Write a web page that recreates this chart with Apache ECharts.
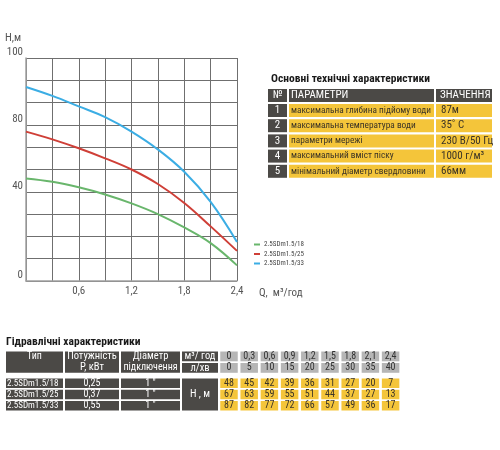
<!DOCTYPE html>
<html>
<head>
<meta charset="utf-8">
<script src="https://cdn.jsdelivr.net/npm/echarts@6/dist/echarts.min.js"></script>
<style>
html,body{margin:0;padding:0;background:#fff;}
#chart{width:500px;height:450px;}
</style>
</head>
<body>
<div id="chart"></div>
<script>
// ---------- chart data ----------
const qValues = [0, 0.3, 0.6, 0.9, 1.2, 1.5, 1.8, 2.1, 2.4];
const seriesNames = ['2.5SDm1.5/18', '2.5SDm1.5/25', '2.5SDm1.5/33'];
const headGreen = [46, 44.5, 42, 38.8, 34.8, 30, 24, 17, 7];
const headRed = [67, 63.5, 59.5, 55, 50, 43.5, 35, 24.5, 13.5];
const headBlue = [87, 83, 78.3, 73.5, 67, 59, 49, 35.5, 17.5];
const yTickValues = [0, 40, 70, 100];
const yTickLabels = ['0', '40', '80', '100'];
const xTickValues = [0.6, 1.2, 1.8, 2.4];
const xTickLabels = ['0,6', '1,2', '1,8', '2,4'];

// ---------- table 1 data ----------
const specTitle = 'Основні технічні характеристики';
const specHeader = ['№', 'ПАРАМЕТРИ', 'ЗНАЧЕННЯ'];
const specNums = ['1', '2', '3', '4', '5'];
const specParams = ['максимальна глибина підйому води', 'максимальна температура води', 'параметри мережі', 'максимальний вміст піску', 'мінімальний діаметр свердловини'];
const specValues = ['87м', '35˚ C', '230 В/50 Гц', '1000 г/м³', '66мм'];

// ---------- table 2 data ----------
const hydTitle = 'Гідравлічні характеристики';
const pumpTypes = ['2.5SDm1.5/18', '2.5SDm1.5/25', '2.5SDm1.5/33'];
const pumpPower = ['0,25', '0,37', '0,55'];
const pumpDiameter = ['1 "', '1 "', '1 "'];
const flowM3 = ['0', '0,3', '0,6', '0,9', '1,2', '1,5', '1,8', '2,1', '2,4'];
const flowLmin = ['0', '5', '10', '15', '20', '25', '30', '35', '40'];
const tableHead18 = [48, 45, 42, 39, 36, 31, 27, 20, 7];
const tableHead25 = [67, 63, 59, 55, 51, 44, 37, 27, 13];
const tableHead33 = [87, 82, 77, 72, 66, 57, 49, 36, 17];

const FONT = '"Liberation Sans Narrow", "Arial Narrow", "Roboto Condensed", "DejaVu Sans Condensed", sans-serif';
const DARK = '#4b4946';
const YELLOW = '#f4c53a';
const GREY = '#b6b6b6';
const colors = ['#69b66c', '#cf3f37', '#3badE4'];

function rect(x, y, w, h, fill) {
  return { type: 'rect', silent: true, shape: { x: x, y: y, width: w, height: h }, style: { fill: fill } };
}
function txt(x, y, text, size, fill, align, weight) {
  return { type: 'text', silent: true, x: x, y: y,
    style: { text: text, fill: fill, fontSize: size, fontFamily: FONT, fontWeight: weight || 'normal',
      align: align || 'left', verticalAlign: 'middle' } };
}

const g = [];
// table 1
g.push(txt(271, 79, specTitle, 11.5, '#1a1a1a', 'left', 'bold'));
const t1cols = [[268, 19], [289, 145], [436, 56]];
const t1HeadTop = 89, rowH = 13;
t1cols.forEach(function (c) { g.push(rect(c[0], t1HeadTop, c[1], rowH, DARK)); });
g.push(txt(277.5, t1HeadTop + 6.5, specHeader[0], 11, '#fff', 'center'));
g.push(txt(291, t1HeadTop + 6.5, specHeader[1], 11, '#fff', 'left'));
g.push(txt(440, t1HeadTop + 6.5, specHeader[2], 11, '#fff', 'left'));
specNums.forEach(function (n, i) {
  const top = 104 + i * 15.2;
  g.push(rect(t1cols[0][0], top, t1cols[0][1], rowH, DARK));
  g.push(rect(t1cols[1][0], top, t1cols[1][1], rowH, YELLOW));
  g.push(rect(t1cols[2][0], top, t1cols[2][1], rowH, YELLOW));
  g.push(txt(277.5, top + 6.5, n, 11, '#fff', 'center'));
  g.push(txt(291, top + 6.5, specParams[i], 9.3, '#3a3326', 'left'));
  g.push(txt(441, top + 6.5, specValues[i], 11, '#3a3326', 'left'));
});

// table 2
g.push(txt(6, 342, hydTitle, 11.5, '#1a1a1a', 'left', 'bold'));
const hTop1 = 351.5, hTop2 = 363, hH = 9.8;
const dTops = [378.5, 389.8, 401];
const dH = 9.5;
const leftCols = [[6, 57], [65, 54], [121, 59]];
// header cells spanning two rows
leftCols.forEach(function (c) { g.push(rect(c[0], hTop1, c[1], hTop2 + hH - hTop1, DARK)); });
g.push(txt(34.5, 356.5, 'Тип', 10, '#fff', 'center'));
g.push(txt(92, 356.5, 'Потужність', 10.5, '#fff', 'center'));
g.push(txt(92, 367.5, 'P, кВт', 10.5, '#fff', 'center'));
g.push(txt(150.5, 356.5, 'Діаметр', 10.5, '#fff', 'center'));
g.push(txt(150.5, 367.5, 'підключення', 10, '#fff', 'center'));
// units column
g.push(rect(182, hTop1, 36, hH, DARK));
g.push(rect(182, hTop2, 36, hH, DARK));
g.push(rect(182, dTops[0], 36, dTops[2] + dH - dTops[0], DARK));
g.push(txt(200, hTop1 + hH / 2, 'м³/ год', 10.5, '#fff', 'center'));
g.push(txt(200, hTop2 + hH / 2, 'л/хв', 10.5, '#fff', 'center'));
g.push(txt(200, dTops[1] + dH / 2, 'Н , м', 10.5, '#fff', 'center'));
// data rows left part
const leftData = [pumpTypes, pumpPower, pumpDiameter];
dTops.forEach(function (top, r) {
  leftCols.forEach(function (c, ci) {
    g.push(rect(c[0], top, c[1], dH, DARK));
    if (ci === 0) g.push(txt(7, top + dH / 2, leftData[0][r], 9, '#fff', 'left'));
    else g.push(txt(c[0] + c[1] / 2, top + dH / 2, leftData[ci][r], 10, '#fff', 'center'));
  });
});
// value columns
const tableHeads = [tableHead18, tableHead25, tableHead33];
flowM3.forEach(function (f, i) {
  const cx = 229 + i * 20.2, w = 17.5;
  g.push(rect(cx - w / 2, hTop1, w, hH, GREY));
  g.push(rect(cx - w / 2, hTop2, w, hH, GREY));
  g.push(txt(cx, hTop1 + hH / 2, f, 10, '#333', 'center'));
  g.push(txt(cx, hTop2 + hH / 2, flowLmin[i], 10, '#333', 'center'));
  dTops.forEach(function (top, r) {
    g.push(rect(cx - w / 2, top, w, dH, YELLOW));
    g.push(txt(cx, top + dH / 2, String(tableHeads[r][i]), 10, '#3a3326', 'center'));
  });
});

const chart = echarts.init(document.getElementById('chart'), null, { renderer: 'canvas' });
function near(a, b) { return Math.abs(a - b) < 1e-6; }
chart.setOption({
  animation: false,
  backgroundColor: '#fff',
  textStyle: { fontFamily: FONT },
  color: colors,
  grid: { left: 26, top: 58, width: 211, height: 223, containLabel: false },
  legend: {
    orient: 'vertical', left: 249, top: 236, itemGap: 2.5,
    itemWidth: 6, itemHeight: 2, icon: 'rect',
    textStyle: { fontSize: 7, color: '#444', fontFamily: FONT, padding: [0, 0, 0, -1] },
    data: seriesNames
  },
  xAxis: {
    type: 'value', min: 0, max: 2.4, interval: 0.3,
    name: 'Q,  м³/год', nameLocation: 'end', nameGap: 22,
    nameTextStyle: { color: '#555', fontSize: 11, align: 'left', verticalAlign: 'top', padding: [7, 0, 0, 0], fontFamily: FONT },
    axisLine: { show: true, lineStyle: { color: '#a0a0a0', width: 1.5 } },
    axisTick: { show: false },
    splitLine: { show: true, lineStyle: { color: '#6f6f6f', width: 1 } },
    axisLabel: {
      color: '#555', fontSize: 11, margin: 5, fontFamily: FONT,
      formatter: function (v) {
        for (let i = 0; i < xTickValues.length; i++) if (near(v, xTickValues[i])) return xTickLabels[i];
        return '';
      }
    }
  },
  yAxis: {
    type: 'value', min: 0, max: 100, interval: 10,
    name: 'Н,м', nameLocation: 'end', nameGap: 14,
    nameTextStyle: { color: '#555', fontSize: 11, align: 'right', verticalAlign: 'bottom', padding: [0, 5, 0, 0], fontFamily: FONT },
    axisLine: { show: true, lineStyle: { color: '#a0a0a0', width: 1.5 } },
    axisTick: { show: false },
    splitLine: { show: true, lineStyle: { color: '#6f6f6f', width: 1 } },
    axisLabel: {
      color: '#555', fontSize: 11, margin: 3, verticalAlign: 'bottom', fontFamily: FONT,
      formatter: function (v) {
        const k = yTickValues.indexOf(v);
        return k >= 0 ? yTickLabels[k] : '';
      }
    }
  },
  series: [headGreen, headRed, headBlue].map(function (arr, i) {
    return {
      name: seriesNames[i], type: 'line', smooth: 0.4, showSymbol: false,
      lineStyle: { width: 2, color: colors[i] },
      itemStyle: { color: colors[i] },
      data: qValues.map(function (q, k) { return [q, arr[k]]; })
    };
  }),
  graphic: g
});
</script>
</body>
</html>
